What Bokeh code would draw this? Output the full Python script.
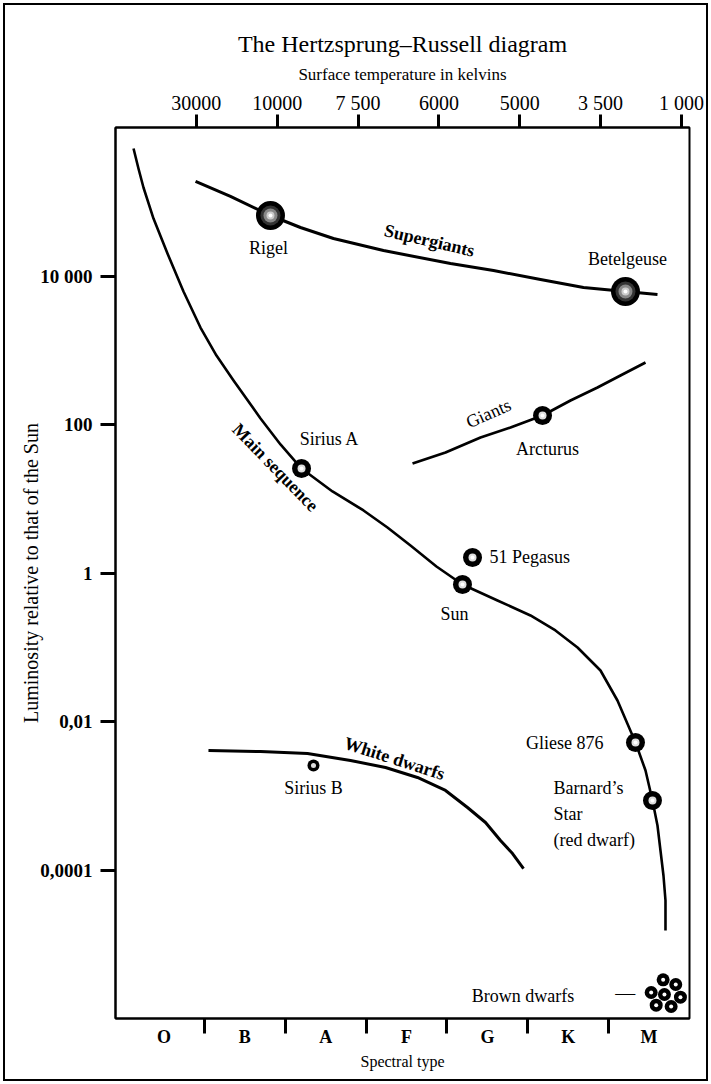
from bokeh.plotting import figure
from bokeh.models import FixedTicker, LinearAxis, Range1d, ColumnDataSource
from bokeh.embed import file_html
from bokeh.resources import INLINE
from bokeh.core.properties import value

SERIF = "Liberation Serif"

# ---------------- data ----------------
spectral_types = ["O", "B", "A", "F", "G", "K", "M"]
spectral_pos = [0, 1, 2, 3, 4, 5, 6]
spectral_bounds = [0.5, 1.5, 2.5, 3.5, 4.5, 5.5]

temp_labels = ["30000", "10000", "7 500", "6000", "5000", "3 500", "1 000"]
temp_pos = [0.4, 1.4, 2.4, 3.4, 4.4, 5.4, 6.4]

lum_ticks = [1e4, 1e2, 1.0, 1e-2, 1e-4]
lum_labels = ["10 000", "100", "1", "0,01", "0,0001"]

# sequences: spectral position, log10 luminosity
ms_x = [-0.377, -0.316, -0.254, -0.130, 0.043, 0.241, 0.451, 0.649, 0.860, 1.194,
        1.441, 1.701, 2.084, 2.468, 2.764, 3.049, 3.370, 3.692, 4.125, 4.533,
        4.842, 5.115, 5.399, 5.609, 5.832, 5.956, 6.042, 6.104, 6.141, 6.178,
        6.203, 6.203]
ms_logL = [5.717, 5.448, 5.192, 4.774, 4.303, 3.791, 3.306, 2.929, 2.593, 2.081,
           1.731, 1.407, 1.098, 0.842, 0.613, 0.370, 0.088, -0.155, -0.370, -0.572,
           -0.774, -1.003, -1.313, -1.717, -2.283, -2.660, -3.064, -3.401, -3.737, -4.074,
           -4.411, -4.815]

sg_x = [0.390, 0.822, 1.317, 1.688, 2.096, 2.715, 3.544, 4.076, 4.657, 5.189, 5.708, 6.104]
sg_logL = [5.273, 5.071, 4.815, 4.653, 4.505, 4.343, 4.168, 4.074, 3.953, 3.845, 3.791, 3.751]

gi_x = [3.074, 3.482, 3.915, 4.286, 4.682, 5.028, 5.362, 5.646, 5.956]
gi_logL = [1.475, 1.623, 1.825, 1.960, 2.121, 2.323, 2.498, 2.660, 2.835]

wd_x = [0.550, 1.194, 1.775, 2.307, 2.740, 3.135, 3.482, 3.754, 3.977, 4.162, 4.311, 4.447]
wd_logL = [-2.391, -2.404, -2.431, -2.525, -2.620, -2.754, -2.929, -3.158, -3.360,
           -3.603, -3.778, -3.980]

big_names = ["Rigel", "Betelgeuse"]
big_x = [1.317, 5.708]
big_logL = [4.815, 3.791]

med_names = ["Sirius A", "Arcturus", "51 Pegasus", "Sun", "Gliese 876",
             "Barnard\u2019s\nStar\n(red dwarf)"]
med_x = [1.701, 4.682, 3.816, 3.692, 5.832, 6.042]
med_logL = [1.407, 2.121, 0.209, -0.155, -2.283, -3.064]

wd_star_name = ["Sirius B"]
wd_star_x = [1.849]
wd_star_logL = [-2.593]

bd_x = [6.174, 6.330, 6.026, 6.190, 6.388, 6.088, 6.273]
bd_logL = [-5.479, -5.542, -5.650, -5.677, -5.713, -5.821, -5.838]

seq_names = ["Supergiants", "Main sequence", "Giants", "White dwarfs"]
seq_x = [3.284, 1.379, 4.013, 2.851]
seq_logL = [4.478, 1.421, 2.148, -2.498]


def lum(arr):
    return [10 ** v for v in arr]


# ---------------- figure ----------------
# figure sits 5px inside the page; its outline forms the page frame
p = figure(width=701, height=1074, output_backend="svg", toolbar_location=None,
           x_range=Range1d(-0.6, 6.5), y_range=Range1d(1e-6, 1e6),
           y_axis_type="log", x_axis_location="below",
           min_border_left=110, min_border_right=17, min_border_top=122,
           min_border_bottom=61)
p.styles = {"margin": "5px", "outline": "2px solid black", "outline-offset": "0px"}
p.xgrid.visible = False
p.ygrid.visible = False
p.outline_line_color = "black"
p.outline_line_width = 2
p.outline_line_alpha = 1
p.background_fill_color = "white"
p.border_fill_color = "white"

p.title.text = "The Hertzsprung\u2013Russell diagram"
p.title.text_font = SERIF
p.title.text_font_size = "24px"
p.title.text_font_style = "normal"
p.title.align = "center"
p.title.text_color = "black"
p.title.standoff = 9

# bottom axis: spectral type
xa = p.xaxis[0]
xa.ticker = FixedTicker(ticks=spectral_pos, minor_ticks=spectral_bounds)
xa.major_label_overrides = {k: v for k, v in zip(spectral_pos, spectral_types)}
xa.major_tick_out = 0
xa.major_tick_in = 0
xa.minor_tick_out = 15
xa.minor_tick_in = 0
xa.minor_tick_line_width = 3
xa.minor_tick_line_color = "black"
xa.axis_line_width = 2
xa.axis_line_color = "black"
xa.major_label_text_font = SERIF
xa.major_label_text_font_style = "bold"
xa.major_label_text_font_size = "18px"
xa.major_label_text_color = "black"
xa.major_label_standoff = -7
xa.axis_label = "Spectral type"
xa.axis_label_text_font = SERIF
xa.axis_label_text_font_style = "normal"
xa.axis_label_text_font_size = "16px"
xa.axis_label_text_color = "black"
xa.axis_label_standoff = 3

# top axis: temperature
ta = LinearAxis(ticker=FixedTicker(ticks=temp_pos, minor_ticks=[]))
ta.major_label_overrides = {k: v for k, v in zip(temp_pos, temp_labels)}
ta.major_tick_out = 13
ta.major_tick_in = 0
ta.major_tick_line_width = 3
ta.major_tick_line_color = "black"
ta.minor_tick_out = 0
ta.minor_tick_in = 0
ta.axis_line_width = 2
ta.axis_line_color = "black"
ta.major_label_text_font = SERIF
ta.major_label_text_font_size = "20px"
ta.major_label_text_color = "black"
ta.major_label_standoff = 1
ta.axis_label = "Surface temperature in kelvins"
ta.axis_label_text_font = SERIF
ta.axis_label_text_font_style = "normal"
ta.axis_label_text_font_size = "17px"
ta.axis_label_text_color = "black"
ta.axis_label_standoff = 5
p.add_layout(ta, "above")

# left axis: luminosity
ya = p.yaxis[0]
ya.ticker = FixedTicker(ticks=lum_ticks, minor_ticks=[])
ya.major_label_overrides = {k: v for k, v in zip(lum_ticks, lum_labels)}
ya.major_tick_out = 15
ya.major_tick_in = 0
ya.major_tick_line_width = 3
ya.major_tick_line_color = "black"
ya.minor_tick_out = 0
ya.minor_tick_in = 0
ya.axis_line_width = 2
ya.axis_line_color = "black"
ya.major_label_text_font = SERIF
ya.major_label_text_font_style = "bold"
ya.major_label_text_font_size = "19px"
ya.major_label_text_color = "black"
ya.major_label_standoff = 8
ya.axis_label = "Luminosity relative to that of the Sun"
ya.axis_label_text_font = SERIF
ya.axis_label_text_font_style = "normal"
ya.axis_label_text_font_size = "20px"
ya.axis_label_text_color = "black"
ya.axis_label_standoff = -5

# ---------------- sequences ----------------
p.line(ms_x, lum(ms_logL), line_color="black", line_width=2.6, line_join="round")
p.line(sg_x, lum(sg_logL), line_color="black", line_width=3, line_join="round")
p.line(gi_x, lum(gi_logL), line_color="black", line_width=2.8, line_join="round")
p.line(wd_x, lum(wd_logL), line_color="black", line_width=3, line_join="round")

# ---------------- stars ----------------
big = ColumnDataSource(dict(x=big_x, y=lum(big_logL), name=big_names))
for sz, col in [(29, "black"), (20, "#333333"), (14, "#888888"), (8, "#cccccc"), (4, "white")]:
    p.scatter("x", "y", source=big, size=sz, fill_color=col, line_color=None)

med = ColumnDataSource(dict(x=med_x, y=lum(med_logL), name=med_names))
p.scatter("x", "y", source=med, size=19, fill_color="black", line_color=None)
p.scatter("x", "y", source=med, size=8, fill_color="#dddddd", line_color=None)
p.scatter("x", "y", source=med, size=4, fill_color="white", line_color=None)

sb = ColumnDataSource(dict(x=wd_star_x, y=lum(wd_star_logL), name=wd_star_name))
p.scatter("x", "y", source=sb, size=12, fill_color="black", line_color=None)
p.scatter("x", "y", source=sb, size=5, fill_color="#dddddd", line_color=None)

bd = ColumnDataSource(dict(x=bd_x, y=lum(bd_logL)))
p.scatter("x", "y", source=bd, size=13, fill_color="black", line_color=None)
p.scatter("x", "y", source=bd, size=4, fill_color="white", line_color=None)

# ---------------- labels ----------------
lab_font = value(SERIF)
LS = "18px"

p.text(x=big_x, y=lum(big_logL), text=big_names, x_offset=[-2, 2], y_offset=[33, -33],
       text_font=lab_font, text_font_size=LS, text_align="center",
       text_baseline="middle", text_color="black")

p.text(x=med_x[:4], y=lum(med_logL[:4]), text=med_names[:4],
       x_offset=[28, 5, 17, -8], y_offset=[-30, 33, 0, 29],
       text_font=lab_font, text_font_size=LS,
       text_align=["center", "center", "left", "center"],
       text_baseline="middle", text_color="black")
p.text(x=med_x[4:5], y=lum(med_logL[4:5]), text=med_names[4:5],
       x_offset=-32, y_offset=0, text_font=lab_font, text_font_size=LS,
       text_align="right", text_baseline="middle", text_color="black")
p.text(x=med_x[5:6], y=lum(med_logL[5:6]), text=med_names[5:6],
       x_offset=-99, y_offset=13, text_font=lab_font, text_font_size=LS,
       text_align="left", text_baseline="middle", text_line_height=1.3,
       text_color="black")

p.text(x=wd_star_x, y=lum(wd_star_logL), text=wd_star_name, x_offset=0, y_offset=22,
       text_font=lab_font, text_font_size=LS, text_align="center",
       text_baseline="middle", text_color="black")

p.text(x=bd_x[2:3], y=lum(bd_logL[2:3]), text=["Brown dwarfs"], x_offset=-77, y_offset=3,
       text_font=lab_font, text_font_size=LS, text_align="right",
       text_baseline="middle", text_color="black")
p.text(x=bd_x[2:3], y=lum(bd_logL[2:3]), text=["\u2014"], x_offset=-26, y_offset=0,
       text_font=lab_font, text_font_size="20px", text_align="center",
       text_baseline="middle", text_color="black")

angles = [-0.23, -0.80, 0.42, -0.31]
styles = ["bold", "bold", "normal", "bold"]
for nm, sx, sy, ang, st in zip(seq_names, seq_x, seq_logL, angles, styles):
    p.text(x=[sx], y=[10 ** sy], text=[nm], angle=ang, text_font=lab_font,
           text_font_size=LS, text_font_style=st, text_align="center",
           text_baseline="middle", text_color="black")

open("out.html", "w").write(file_html(p, INLINE))
